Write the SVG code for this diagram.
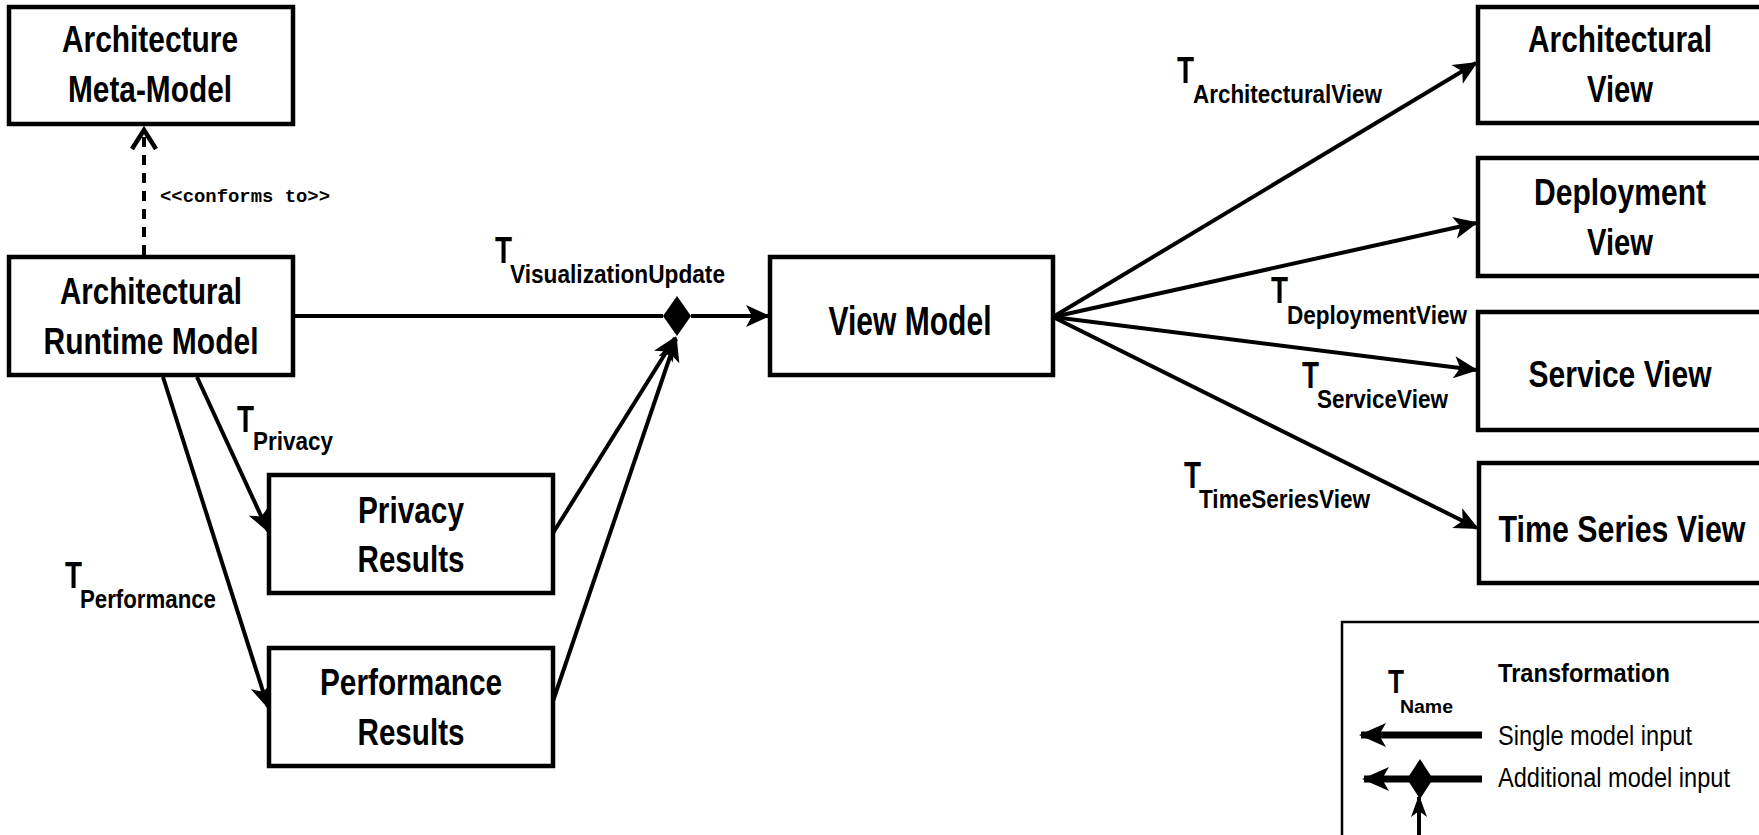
<svg xmlns="http://www.w3.org/2000/svg" width="1759" height="835" viewBox="0 0 1759 835">
<style>
.box{fill:#fff;stroke:#000;stroke-width:4.5}
.node{font-family:"Liberation Sans Narrow","Liberation Sans",Arial,sans-serif;font-weight:bold;font-size:37px;fill:#000;text-anchor:middle}
.tl{font-family:"Liberation Sans Narrow","Liberation Sans",Arial,sans-serif;font-weight:bold;font-size:37px;fill:#000}
.ts{font-family:"Liberation Sans Narrow","Liberation Sans",Arial,sans-serif;font-weight:bold;font-size:25px;fill:#000}
.lg{font-family:"Liberation Sans Narrow","Liberation Sans",Arial,sans-serif;font-size:27px;fill:#000}
.mono{font-family:"Liberation Mono","Courier New",monospace;font-weight:bold;font-size:19px;fill:#000}
.conn{fill:none;stroke:#000;stroke-width:4}
</style>
<defs>
<marker id="arr" markerUnits="userSpaceOnUse" viewBox="-24 -12 26 24" markerWidth="26" markerHeight="24" refX="0" refY="0" orient="auto" overflow="visible">
<path d="M2,0 L-22,-11 L-16,0 L-22,11 Z" fill="#000"/>
</marker>
<marker id="arrL" markerUnits="userSpaceOnUse" viewBox="-28 -12 30 24" markerWidth="30" markerHeight="24" refX="0" refY="0" orient="auto" overflow="visible">
<path d="M2,0 L-25,-12 L-18,0 L-25,12 Z" fill="#000"/>
</marker>
<marker id="arrS" markerUnits="userSpaceOnUse" viewBox="-22 -9 24 18" markerWidth="24" markerHeight="18" refX="0" refY="0" orient="auto" overflow="visible">
<path d="M2,0 L-20,-8 L-14,0 L-20,8 Z" fill="#000"/>
</marker>
<marker id="chev" markerUnits="userSpaceOnUse" viewBox="-24 -16 28 32" markerWidth="28" markerHeight="32" refX="0" refY="0" orient="auto" overflow="visible">
<path d="M-19,-12 L0,0 L-19,12" fill="none" stroke="#000" stroke-width="4.5"/>
</marker>
</defs>

<g id="connectors">
<line x1="144" y1="255" x2="144" y2="130" class="conn" stroke-dasharray="10,8" marker-end="url(#chev)"/>
<line x1="293" y1="316" x2="663" y2="316" class="conn"/>
<polygon points="677,296 691,316 677,336 663,316" fill="#000"/>
<line x1="691" y1="316" x2="768" y2="316" class="conn" marker-end="url(#arr)"/>
<line x1="553" y1="533" x2="675" y2="338" class="conn" marker-end="url(#arr)"/>
<line x1="553" y1="701" x2="676" y2="339" class="conn" marker-end="url(#arr)"/>
<line x1="197" y1="377" x2="268" y2="531" class="conn" marker-end="url(#arr)"/>
<line x1="163" y1="377" x2="268" y2="707" class="conn" marker-end="url(#arr)"/>
<line x1="1053" y1="317" x2="1476" y2="63" class="conn" marker-end="url(#arr)"/>
<line x1="1053" y1="317" x2="1476" y2="223" class="conn" marker-end="url(#arr)"/>
<line x1="1053" y1="317" x2="1476" y2="370" class="conn" marker-end="url(#arr)"/>
<line x1="1053" y1="317" x2="1477" y2="528" class="conn" marker-end="url(#arr)"/>
</g>

<g id="label-conforms"><text x="160" y="202" class="mono" textLength="170" lengthAdjust="spacingAndGlyphs">&lt;&lt;conforms to&gt;&gt;</text></g>

<g id="label-vis">
<text x="495" y="263" class="tl" textLength="17" lengthAdjust="spacingAndGlyphs">T</text>
<text x="510" y="283" class="ts" textLength="215" lengthAdjust="spacingAndGlyphs">VisualizationUpdate</text>
</g>
<g id="label-privacy">
<text x="237" y="432" class="tl" textLength="17" lengthAdjust="spacingAndGlyphs">T</text>
<text x="253" y="450" class="ts" textLength="80" lengthAdjust="spacingAndGlyphs">Privacy</text>
</g>
<g id="label-performance">
<text x="65" y="588" class="tl" textLength="17" lengthAdjust="spacingAndGlyphs">T</text>
<text x="80" y="608" class="ts" textLength="136" lengthAdjust="spacingAndGlyphs">Performance</text>
</g>
<g id="label-archview">
<text x="1177" y="83" class="tl" textLength="17" lengthAdjust="spacingAndGlyphs">T</text>
<text x="1193" y="103" class="ts" textLength="189" lengthAdjust="spacingAndGlyphs">ArchitecturalView</text>
</g>
<g id="label-deployview">
<text x="1271" y="303" class="tl" textLength="17" lengthAdjust="spacingAndGlyphs">T</text>
<text x="1287" y="324" class="ts" textLength="180" lengthAdjust="spacingAndGlyphs">DeploymentView</text>
</g>
<g id="label-serviceview">
<text x="1302" y="388" class="tl" textLength="17" lengthAdjust="spacingAndGlyphs">T</text>
<text x="1317" y="408" class="ts" textLength="131" lengthAdjust="spacingAndGlyphs">ServiceView</text>
</g>
<g id="label-timeseriesview">
<text x="1184" y="488" class="tl" textLength="17" lengthAdjust="spacingAndGlyphs">T</text>
<text x="1199" y="508" class="ts" textLength="171" lengthAdjust="spacingAndGlyphs">TimeSeriesView</text>
</g>

<g id="meta-model">
<rect x="9" y="7" width="284" height="117" class="box"/>
<text x="150" y="52" class="node" textLength="176" lengthAdjust="spacingAndGlyphs">Architecture</text>
<text x="150" y="102" class="node" textLength="164" lengthAdjust="spacingAndGlyphs">Meta-Model</text>
</g>
<g id="runtime-model">
<rect x="9" y="257" width="284" height="118" class="box"/>
<text x="151" y="304" class="node" textLength="182" lengthAdjust="spacingAndGlyphs">Architectural</text>
<text x="151" y="354" class="node" textLength="215" lengthAdjust="spacingAndGlyphs">Runtime Model</text>
</g>
<g id="privacy-results">
<rect x="269" y="475" width="284" height="118" class="box"/>
<text x="411" y="523" class="node" textLength="106" lengthAdjust="spacingAndGlyphs">Privacy</text>
<text x="411" y="572" class="node" textLength="107" lengthAdjust="spacingAndGlyphs">Results</text>
</g>
<g id="performance-results">
<rect x="269" y="648" width="284" height="118" class="box"/>
<text x="411" y="695" class="node" textLength="182" lengthAdjust="spacingAndGlyphs">Performance</text>
<text x="411" y="745" class="node" textLength="107" lengthAdjust="spacingAndGlyphs">Results</text>
</g>
<g id="view-model">
<rect x="770" y="257" width="283" height="118" class="box"/>
<text x="910" y="335" class="node" style="font-size:41px" textLength="163" lengthAdjust="spacingAndGlyphs">View Model</text>
</g>
<g id="architectural-view">
<rect x="1478" y="7" width="300" height="116" class="box"/>
<text x="1620" y="52" class="node" textLength="184" lengthAdjust="spacingAndGlyphs">Architectural</text>
<text x="1620" y="102" class="node" textLength="66" lengthAdjust="spacingAndGlyphs">View</text>
</g>
<g id="deployment-view">
<rect x="1478" y="158" width="300" height="118" class="box"/>
<text x="1620" y="205" class="node" textLength="172" lengthAdjust="spacingAndGlyphs">Deployment</text>
<text x="1620" y="255" class="node" textLength="66" lengthAdjust="spacingAndGlyphs">View</text>
</g>
<g id="service-view">
<rect x="1478" y="312" width="300" height="118" class="box"/>
<text x="1620" y="387" class="node" textLength="183" lengthAdjust="spacingAndGlyphs">Service View</text>
</g>
<g id="time-series-view">
<rect x="1479" y="463" width="300" height="120" class="box"/>
<text x="1622" y="542" class="node" textLength="247" lengthAdjust="spacingAndGlyphs">Time Series View</text>
</g>

<g id="legend">
<rect x="1342" y="622" width="440" height="240" fill="#fff" stroke="#000" stroke-width="2.5"/>
<text x="1388" y="693" class="tl" style="font-size:34px" textLength="16" lengthAdjust="spacingAndGlyphs">T</text>
<text x="1400" y="713" class="ts" style="font-size:19px" textLength="53" lengthAdjust="spacingAndGlyphs">Name</text>
<text x="1498" y="682" class="ts" textLength="172" lengthAdjust="spacingAndGlyphs">Transformation</text>
<text x="1498" y="745" class="lg" textLength="194" lengthAdjust="spacingAndGlyphs">Single model input</text>
<text x="1498" y="787" class="lg" textLength="232" lengthAdjust="spacingAndGlyphs">Additional model input</text>
<line x1="1482" y1="735" x2="1361" y2="735" stroke="#000" stroke-width="7" marker-end="url(#arrL)"/>
<line x1="1482" y1="779" x2="1364" y2="779" stroke="#000" stroke-width="7" marker-end="url(#arrL)"/>
<polygon points="1420,759 1433,779 1420,799 1407,779" fill="#000"/>
<line x1="1419" y1="835" x2="1419" y2="797" stroke="#000" stroke-width="4" marker-end="url(#arrS)"/>
</g>
</svg>
